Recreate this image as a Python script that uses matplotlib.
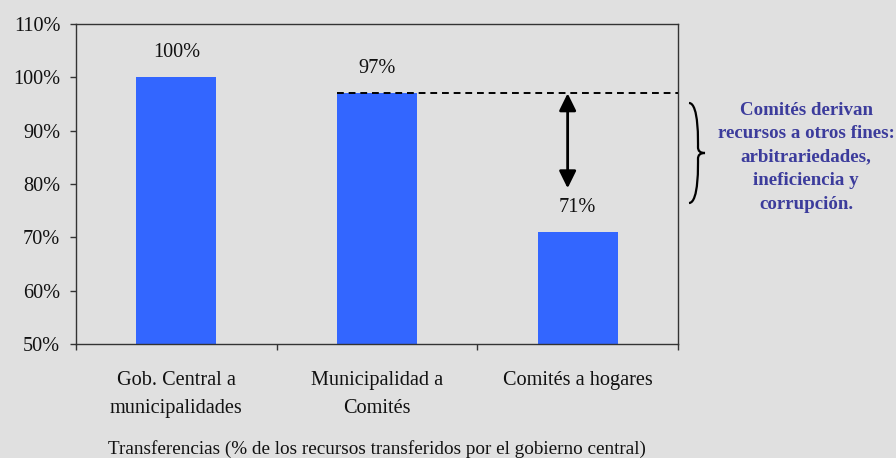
import matplotlib.pyplot as plt
from matplotlib.path import Path
from matplotlib.patches import PathPatch

categories = ["Gob. Central a\nmunicipalidades", "Municipalidad a\nComités", "Comités a hogares"]
values = [100, 97, 71]
yticks = [50, 60, 70, 80, 90, 100, 110]
note = "Comités derivan\nrecursos a otros fines:\narbitrariedades,\nineficiencia y\ncorrupción."
xlabel = "Transferencias (% de los recursos transferidos por el gobierno central)"

bg = "#e0e0e0"
plt.rcParams["font.family"] = ["Liberation Serif", "DejaVu Serif"]
plt.rcParams["font.size"] = 14.6

fig = plt.figure(figsize=(8.96, 4.58), dpi=100, facecolor=bg)
ax = fig.add_axes([76 / 896, 1 - 344 / 458, (678 - 76) / 896, (344 - 24) / 458])
ax.set_facecolor(bg)

x = list(range(len(values)))
ax.bar(x, values, width=0.4, color="#3366ff", zorder=2)
for xi, v in zip(x, values):
    ax.annotate(f"{v}%", (xi, v), xytext=(0, 18), textcoords="offset points",
                ha="center", va="center", color="#111111")

ax.set_xlim(-0.5, 2.5)
ax.set_ylim(50, 110)
ax.set_yticks(yticks)
ax.set_yticklabels([f"{t}%" for t in yticks], color="#111111")
ax.tick_params(axis="y", length=4.3, width=1, pad=7, color="#333333")
ax.set_xticks(x)
ax.set_xticklabels(categories, color="#111111", linespacing=1.65)
ax.set_xticks([-0.5, 0.5, 1.5, 2.5], minor=True)
ax.tick_params(axis="x", which="major", length=0, pad=19.5)
ax.tick_params(axis="x", which="minor", length=4.3, width=1, color="#333333")
for s in ax.spines.values():
    s.set_color("#333333")
    s.set_linewidth(1)
ax.set_xlabel(xlabel, color="#111111", labelpad=15.5, fontsize=13.8)

# dashed reference line from bar 2 to the right border
ax.plot([0.8, 2.5], [values[1], values[1]], ls=(0, (3.5, 2.5)), color="black", lw=1.4, zorder=3)
# double arrow showing the gap
ax.annotate("", xy=(1.95, 79.2), xytext=(1.95, values[1]),
            arrowprops=dict(arrowstyle="<|-|>,head_width=0.32,head_length=0.65", color="black",
                            lw=2, mutation_scale=16, shrinkA=0, shrinkB=0))

# curly brace outside the axes (figure pixel coords)
def fy(py):
    return 458 - py

bx, top, bot, tip = 689, 103, 203, 705
mid = (top + bot) / 2
verts = [
    (bx, fy(top)), (bx + 10, fy(top)), (bx + 9, fy(mid - 10)), (bx + 9, fy(mid - 6)),
    (bx + 9, fy(mid - 2)), (bx + 11, fy(mid)), (tip, fy(mid)),
    (bx + 11, fy(mid)), (bx + 9, fy(mid + 2)), (bx + 9, fy(mid + 6)),
    (bx + 9, fy(mid + 10)), (bx + 10, fy(bot)), (bx, fy(bot)),
]
codes = [Path.MOVETO, Path.CURVE4, Path.CURVE4, Path.CURVE4,
         Path.CURVE4, Path.CURVE4, Path.CURVE4,
         Path.CURVE4, Path.CURVE4, Path.CURVE4,
         Path.CURVE4, Path.CURVE4, Path.CURVE4]
brace = PathPatch(Path([(vx / 896, vy / 458) for vx, vy in verts], codes),
                  transform=fig.transFigure, fill=False, lw=1.6, color="black")
fig.patches.append(brace)

fig.text(806 / 896, 1 - 157 / 458, note, ha="center", va="center", fontsize=13.6,
         fontweight="bold", color="#3c3c9c", linespacing=1.5)

fig.savefig("out.png", dpi=100, facecolor=bg)
